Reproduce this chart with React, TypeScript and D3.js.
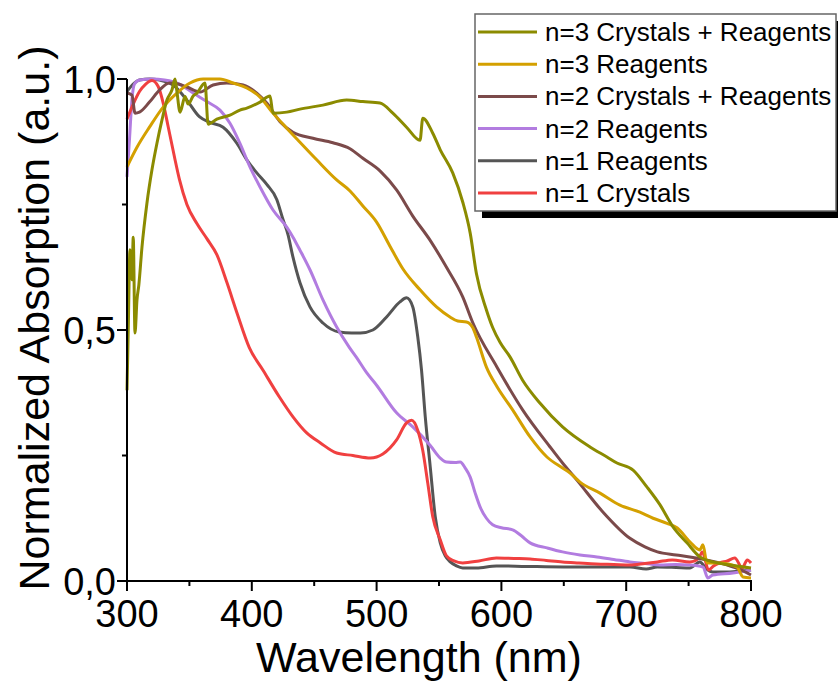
import React from 'react';
import * as d3 from 'd3';

// absorption spectra, [wavelength nm, normalized absorption]
const n1Crystals: [number, number][] = [
  [300, 0.92], [305, 0.95], [310, 0.975], [315, 0.99], [320, 0.997], [325, 0.985], [329, 0.952], [333, 0.905],
  [338, 0.845], [342, 0.8], [348, 0.75], [356, 0.712], [364, 0.682], [372, 0.65], [380, 0.595], [388, 0.535],
  [398, 0.465], [409, 0.42], [422, 0.367], [433, 0.327], [444, 0.295], [455, 0.275], [468, 0.255], [481, 0.25],
  [495, 0.245], [505, 0.253], [516, 0.281], [524, 0.315], [528, 0.32], [533, 0.3], [537, 0.26], [541, 0.195],
  [545, 0.128], [551, 0.082], [556, 0.05], [562, 0.04], [569, 0.036], [582, 0.04], [596, 0.046], [610, 0.045],
  [623, 0.044], [636, 0.041], [649, 0.038], [662, 0.036], [676, 0.034], [690, 0.033], [703, 0.032], [715, 0.035],
  [725, 0.038], [737, 0.042], [751, 0.038], [758, 0.045], [761, 0.058], [766, 0.022], [770, 0.03], [775, 0.036],
  [781, 0.04], [787, 0.046], [793, 0.026], [797, 0.042], [800, 0.036],
];

const n1Reagents: [number, number][] = [
  [300, 0.975], [305, 0.99], [310, 0.998], [318, 1.0], [326, 0.998], [337, 0.988], [348, 0.958], [358, 0.925],
  [366, 0.914], [377, 0.904], [388, 0.872], [396, 0.839], [404, 0.813], [412, 0.79], [420, 0.76], [425, 0.72],
  [429, 0.69], [433, 0.645], [438.6, 0.594], [446.6, 0.546], [457, 0.514], [470, 0.496], [480, 0.494], [487, 0.494],
  [497, 0.5], [508, 0.526], [518.7, 0.556], [524, 0.564], [529, 0.546], [533, 0.486], [536, 0.42], [539, 0.327],
  [543, 0.227], [547, 0.128], [551, 0.076], [555, 0.05], [559, 0.038], [564, 0.03], [569, 0.026], [580, 0.026],
  [596, 0.03], [620, 0.029], [650, 0.028], [680, 0.028], [703, 0.028], [716, 0.024], [725, 0.028], [740, 0.027],
  [751, 0.026], [759, 0.038], [764, 0.025], [769.5, 0.018], [783, 0.018], [792, 0.02], [800, 0.022],
];

const n2Reagents: [number, number][] = [
  [300, 0.805], [302, 0.88], [304, 0.96], [306, 0.99], [310, 0.998], [320, 1.0], [330, 0.998], [342, 0.99],
  [353, 0.972], [364, 0.955], [374.5, 0.938], [382.5, 0.912], [390.5, 0.872], [398.5, 0.825], [406.6, 0.785],
  [417, 0.739], [428, 0.705], [433, 0.685], [438.6, 0.659], [446.6, 0.62], [457, 0.56], [468, 0.506], [478, 0.466],
  [484, 0.445], [492, 0.415], [500, 0.39], [516, 0.335], [529, 0.307], [543, 0.27], [551, 0.245], [556, 0.237],
  [563, 0.236], [567, 0.237], [571, 0.225], [575, 0.207], [579, 0.175], [583, 0.147], [588, 0.125], [593, 0.112],
  [600, 0.106], [609, 0.102], [616, 0.09], [623, 0.076], [636.5, 0.066], [649, 0.058], [663, 0.052], [676.6, 0.048],
  [690, 0.043], [703, 0.038], [715, 0.035], [727, 0.032], [740, 0.033], [751, 0.032], [761.5, 0.028], [765.5, 0.006],
  [769.5, 0.012], [785.6, 0.016], [800, 0.022],
];

const n2CrystalsReagents: [number, number][] = [
  [300, 0.972], [304, 0.968], [306.4, 0.932], [310, 0.934], [318, 0.954], [326, 0.978], [334, 0.992], [341, 0.99],
  [348, 0.984], [358.5, 0.974], [369, 0.988], [380, 0.992], [393, 0.988], [404, 0.972], [412, 0.952], [422.6, 0.915],
  [433, 0.894], [449, 0.882], [465, 0.873], [478.7, 0.861], [489, 0.842], [502.7, 0.817], [516, 0.779], [529, 0.727],
  [542.8, 0.679], [556, 0.625], [569, 0.566], [577, 0.515], [596.5, 0.426], [617, 0.341], [639, 0.267], [649, 0.235],
  [660.5, 0.201], [681.5, 0.137], [703, 0.085], [715, 0.068], [725, 0.058], [740, 0.052], [751, 0.048], [775, 0.036],
  [790, 0.024], [800, 0.012],
];

const n3Reagents: [number, number][] = [
  [300, 0.825], [308, 0.864], [318, 0.904], [329, 0.944], [340, 0.972], [350.5, 0.992], [361, 1.0], [374.5, 1.0],
  [385, 0.992], [396, 0.982], [406.6, 0.964], [417, 0.932], [428, 0.902], [438.6, 0.874], [452, 0.839], [468, 0.799],
  [478.7, 0.777], [489, 0.747], [500, 0.715], [510.7, 0.667], [521, 0.622], [534.8, 0.58], [548, 0.546], [558.8, 0.526],
  [565, 0.518], [572, 0.516], [577, 0.505], [580, 0.486], [588, 0.426], [596.5, 0.387], [609, 0.341], [623, 0.287],
  [636.5, 0.247], [649, 0.225], [655, 0.215], [663, 0.197], [679, 0.175], [695, 0.151], [711, 0.137], [721.5, 0.125],
  [732.7, 0.115], [740.7, 0.106], [751, 0.078], [759, 0.062], [761.5, 0.072], [764.7, 0.036], [775, 0.036],
  [788.7, 0.028], [793.6, 0.008], [800, 0.006],
];

const n3CrystalsReagents: [number, number][] = [
  [300, 0.38], [301, 0.5], [302.4, 0.66], [304, 0.6], [305, 0.685], [306.4, 0.494], [308, 0.56], [309.5, 0.59],
  [312, 0.665], [316, 0.753], [320, 0.819], [324, 0.872], [328, 0.918], [332, 0.958], [336, 0.978], [338.5, 1.0],
  [340, 0.975], [342.5, 0.934], [346.5, 0.965], [349, 0.95], [353, 0.966], [356, 0.972], [362.5, 0.992], [365, 0.91],
  [372, 0.92], [382.5, 0.928], [390.5, 0.938], [396, 0.942], [406.6, 0.954], [414.6, 0.966], [417, 0.932], [428, 0.934],
  [438.6, 0.94], [457, 0.948], [476, 0.958], [489, 0.955], [502.7, 0.952], [513, 0.932], [524, 0.904], [534.8, 0.878],
  [537, 0.922], [545, 0.892], [551, 0.859], [561, 0.813], [569, 0.755], [575, 0.693], [580, 0.612], [588, 0.54],
  [593, 0.505], [599, 0.475], [607, 0.446], [617, 0.4], [631, 0.354], [649, 0.307], [671, 0.267], [684.6, 0.247],
  [692.6, 0.235], [705.5, 0.221], [716.7, 0.187], [727, 0.152], [737.5, 0.108], [748.7, 0.076], [759, 0.048],
  [769.5, 0.038], [783, 0.032], [800, 0.026],
];

const legendNames = [
  'n=3 Crystals + Reagents',
  'n=3 Reagents',
  'n=2 Crystals + Reagents',
  'n=2 Reagents',
  'n=1 Reagents',
  'n=1 Crystals',
];
const legendColors = ['#8b8b00', '#d4a000', '#7b4a4a', '#b27ce0', '#555555', '#f04040'];

const xMajor = [300, 400, 500, 600, 700, 800];
const xMinor = [350, 450, 550, 650, 750];
const yMajor = [0, 0.5, 1.0];
const yMinor = [0.25, 0.75];
const yLabels = ['0,0', '0,5', '1,0'];

const font = '"Liberation Sans", Arial, sans-serif';

export default function App() {
  const width = 838;
  const height = 682;
  const x = d3.scaleLinear().domain([300, 800]).range([127, 751]);
  const y = d3.scaleLinear().domain([0, 1]).range([581, 79]);

  const line = d3.line<[number, number]>()
    .x(d => x(d[0]))
    .y(d => y(d[1]))
    .curve(d3.curveMonotoneX);

  // drawing order (bottom to top)
  const series = [
    { data: n1Reagents, color: legendColors[4] },
    { data: n2Reagents, color: legendColors[3] },
    { data: n1Crystals, color: legendColors[5] },
    { data: n2CrystalsReagents, color: legendColors[2] },
    { data: n3Reagents, color: legendColors[1] },
    { data: n3CrystalsReagents, color: legendColors[0] },
  ];

  const lx = 475, ly = 14, lw = 361, lh = 197;

  return (
    <svg width={width} height={height} style={{ position: 'absolute', left: 0, top: 0, background: '#fff' }}>
      {series.map((s, i) => (
        <path key={i} d={line(s.data) || ''} fill="none" stroke={s.color} strokeWidth={3} strokeLinejoin="round" />
      ))}

      {/* axes */}
      <g stroke="#000" strokeWidth={2}>
        <line x1={127} x2={127} y1={y(1)} y2={y(0) + 1} />
        <line x1={126} x2={x(800) + 1} y1={581} y2={581} />
        {xMajor.map(v => <line key={'xM' + v} x1={x(v)} x2={x(v)} y1={581} y2={591} />)}
        {xMinor.map(v => <line key={'xm' + v} x1={x(v)} x2={x(v)} y1={581} y2={586} />)}
        {yMajor.map(v => <line key={'yM' + v} x1={117} x2={127} y1={y(v)} y2={y(v)} />)}
        {yMinor.map(v => <line key={'ym' + v} x1={122} x2={127} y1={y(v)} y2={y(v)} />)}
      </g>
      <g fontFamily={font} fill="#000">
        {xMajor.map(v => (
          <text key={'xl' + v} x={x(v)} y={627} fontSize={38} textAnchor="middle">{v}</text>
        ))}
        {yMajor.map((v, i) => (
          <text key={'yl' + v} x={116} y={y(v) + 14} fontSize={38} textAnchor="end">{yLabels[i]}</text>
        ))}
        <text x={419} y={672} fontSize={43} textAnchor="middle">Wavelength (nm)</text>
        <text transform="translate(49,318) rotate(-90)" fontSize={43} textAnchor="middle">Normalized Absorption (a.u.)</text>
      </g>

      {/* legend */}
      <rect x={lx + 7} y={ly + 7} width={lw} height={lh} fill="#000" />
      <rect x={lx} y={ly} width={lw} height={lh} fill="#fff" stroke="#666" strokeWidth={1.5} />
      {legendNames.map((name, i) => {
        const cy = 32 + i * 32.2;
        return (
          <g key={name}>
            <line x1={478} x2={537} y1={cy} y2={cy} stroke={legendColors[i]} strokeWidth={3} />
            <text x={545} y={cy + 9} fontFamily={font} fontSize={26} fill="#000">{name}</text>
          </g>
        );
      })}
    </svg>
  );
}
